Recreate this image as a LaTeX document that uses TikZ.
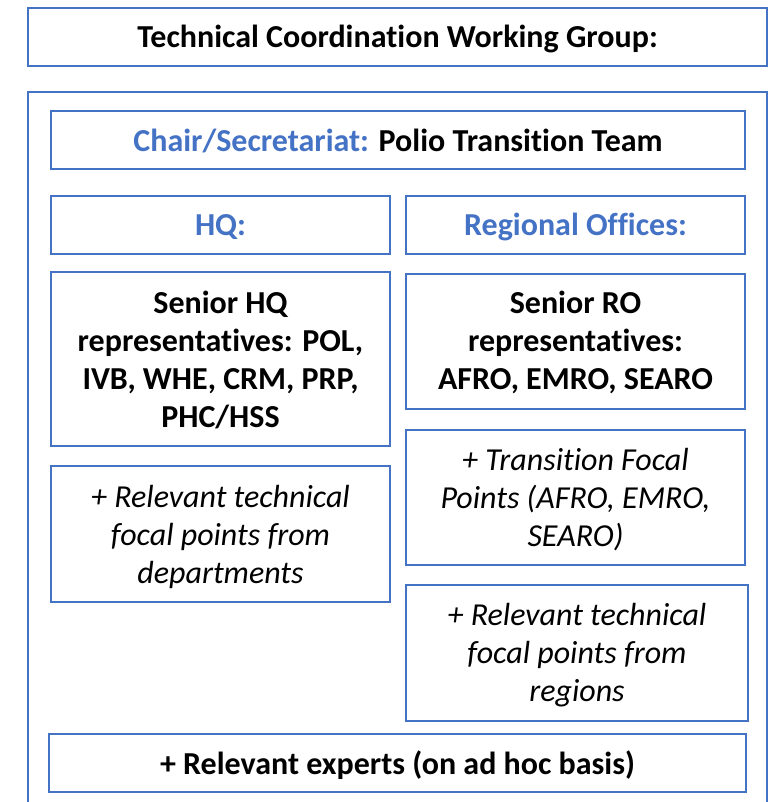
\documentclass[tikz,border=0pt]{standalone}
\usepackage{fontspec}
\setmainfont[Ligatures={NoCommon}]{Carlito}
\definecolor{obl}{HTML}{4472C4}
\begin{document}
\begin{tikzpicture}[x=1pt,y=-1pt,
  box/.style={draw=obl,line width=1.6pt,inner sep=0pt},
  txt/.style={align=center,inner sep=0pt,font=\fontsize{32}{38}\selectfont},
  bld/.style={txt,font=\fontsize{32}{38}\selectfont\bfseries},
  itl/.style={txt,font=\fontsize{32}{38}\selectfont\itshape}]
\useasboundingbox (0,0) rectangle (769,802);
\fill[white] (0,0) rectangle (769,802);
\draw[obl,line width=2.4pt] (28,830) -- (28,92) -- (767,92) -- (767,830);
% boxes
\node[box,minimum width=739pt,minimum height=58pt] (title) at (397.5,37) {};
\node[box,minimum width=694pt,minimum height=58pt] (chair) at (398,140) {};
\node[box,minimum width=339pt,minimum height=58pt] (hq) at (220.5,225) {};
\node[box,minimum width=339pt,minimum height=58pt] (ro) at (575.5,225) {};
\node[box,minimum width=339pt,minimum height=174pt] (shq) at (220.5,359) {};
\node[box,minimum width=339pt,minimum height=135pt] (sro) at (575.5,341.5) {};
\node[box,minimum width=339pt,minimum height=136pt] (rhq) at (220.5,534) {};
\node[box,minimum width=339pt,minimum height=135pt] (tfp) at (575.5,497.5) {};
\node[box,minimum width=342pt,minimum height=136pt] (rro) at (577,653) {};
\node[box,minimum width=697pt,minimum height=58pt] (exp) at (397.5,763) {};
% texts
\node[bld] (titlet) at ([yshift=-2pt]title.center) {Technical Coordination Working Group:};
\node[bld] (chairt) at ([yshift=-1.5pt]chair.center) {\textcolor{obl}{Chair/Secretariat:} Polio Transition Team};
\node[bld,text=obl] (hqt) at ([yshift=-2pt]hq.center) {HQ:};
\node[bld,text=obl] (rot) at ([yshift=-2pt]ro.center) {Regional Offices:};
\node[bld] (shqt) at ([yshift=-1pt]shq.center) {Senior HQ\\representatives: POL,\\IVB, WHE, CRM, PRP,\\PHC/HSS};
\node[bld] (srot) at ([yshift=-1pt]sro.center) {Senior RO\\representatives:\\AFRO, EMRO, SEARO};
\node[itl] (rhqt) at ([yshift=-2.5pt]rhq.center) {+ Relevant technical\\focal points from\\departments};
\node[itl] (tfpt) at ([yshift=-2.5pt]tfp.center) {+ Transition Focal\\Points (AFRO, EMRO,\\SEARO)};
\node[itl] (rrot) at ([yshift=-2.5pt]rro.center) {+ Relevant technical\\focal points from\\regions};
\node[bld] (expt) at ([yshift=-2pt]exp.center) {+ Relevant experts (on ad hoc basis)};
\end{tikzpicture}
\end{document}
